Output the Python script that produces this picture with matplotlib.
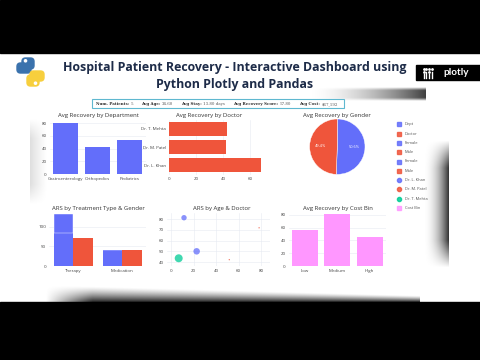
import numpy as np
import matplotlib.pyplot as plt
from matplotlib.patches import Rectangle, FancyBboxPatch, Circle

# ===== DATA =====
TITLE_1 = "Hospital Patient Recovery - Interactive Dashboard using"
TITLE_2 = "Python Plotly and Pandas"

kpi_labels = ["Num. Patients:", "Avg Age:", "Avg Stay:", "Avg Recovery Score:", "Avg Cost:"]
kpi_values = ["5", "34.60", "13.80 days", "57.80", "$67,192"]

departments = ["Gastroenterology", "Orthopedics", "Pediatrics"]
dept_recovery = [81, 42, 54]

doctors = ["Dr. L. Khan", "Dr. M. Patel", "Dr. T. Mehta"]
doctor_recovery = [68, 42, 43]

genders = ["Female", "Male"]
gender_share = [50.6, 49.4]

treatments = ["Therapy", "Medication"]
ars_female_lower = [83, 41]
ars_female_upper = [48, 0]
ars_male = [72, 41]

ages = [11.5, 22.7, 6.8, 51.6, 78]
scores = [81.4, 50, 43.5, 42.2, 72]
patient_doctor = ["Dr. L. Khan", "Dr. L. Khan", "Dr. T. Mehta", "Dr. M. Patel", "Dr. M. Patel"]
bubble_size = [15, 22, 33, 1, 1]

cost_bins = ["Low", "Medium", "High"]
cost_recovery = [56.5, 81.6, 46]

legend_names = ["Dept", "Doctor", "Female", "Male", "Female", "Male",
                "Dr. L. Khan", "Dr. M. Patel", "Dr. T. Mehta", "Cost Bin"]

BLUE = "#636EFA"
RED = "#EF553B"
GREEN = "#00CC96"
PINK = "#FF97FF"
doc_colors = {"Dr. L. Khan": BLUE, "Dr. M. Patel": RED, "Dr. T. Mehta": GREEN}
legend_colors = [BLUE, RED, BLUE, RED, BLUE, RED, BLUE, RED, GREEN, PINK]
legend_marks = ["s"] * 6 + ["o"] * 3 + ["s"]

W, H = 480, 360
FONT = "Open Sans"
TICK_FS = 3.2
TITLE_FS = 4.3
GRID = "#E6EAF2"

fig = plt.figure(figsize=(4.8, 3.6), dpi=100, facecolor="white")

# background canvas in pixel coords
bg = fig.add_axes([0, 0, 1, 1], zorder=0)
bg.set_xlim(0, W)
bg.set_ylim(H, 0)
bg.axis("off")


def shade(x0, x1, y0, y1, alpha):
    rgba = np.zeros(alpha.shape + (4,))
    rgba[..., 3] = np.clip(alpha, 0, 1)
    bg.imshow(rgba, extent=(x0, x1, y1, y0), aspect="auto", interpolation="bilinear", zorder=1)


# black letterbox bands
bg.add_patch(Rectangle((0, 0), W, 53, color="black", zorder=3))
bg.add_patch(Rectangle((0, 302), W, 58, color="black", zorder=3))

# page shadows
xx, yy = np.meshgrid(np.linspace(0, 1, 200), np.linspace(0, 1, 60))
start = 0.05 + 0.6 * xx
a = np.clip((yy - start) / (1 - start + 1e-6), 0, 1) ** 1.3 * 0.85
a *= np.clip(xx * 8, 0, 1)
shade(45, 420, 284, 302, a)

xx, yy = np.meshgrid(np.linspace(0, 1, 60), np.linspace(0, 1, 120))
a = xx ** 2.2 * 0.8 * np.clip(np.sin(np.pi * yy) * 1.6, 0, 1)
shade(422, 449, 140, 268, a)

xx, yy = np.meshgrid(np.linspace(0, 1, 120), np.linspace(0, 1, 40))
a = xx ** 1.8 * 0.75 * np.clip(np.sin(np.pi * yy) * 1.5, 0, 1)
shade(305, 426, 87, 101, a)

xx, yy = np.meshgrid(np.linspace(0, 1, 40), np.linspace(0, 1, 80))
a = (1 - xx) ** 1.2 * 0.13 * np.clip(np.sin(np.pi * yy) * 1.5, 0, 1)
shade(30, 48, 118, 205, a)

# python logo
bg.add_patch(FancyBboxPatch((22, 58), 12, 11, boxstyle="round,pad=0,rounding_size=3.5", color="#3a72ad", zorder=4))
bg.add_patch(FancyBboxPatch((17, 63), 14, 10, boxstyle="round,pad=0,rounding_size=3.5", color="#3a72ad", zorder=4))
bg.add_patch(FancyBboxPatch((30, 71), 14, 10, boxstyle="round,pad=0,rounding_size=3.5", color="#f7cf3d", zorder=4))
bg.add_patch(FancyBboxPatch((27, 75), 12, 11, boxstyle="round,pad=0,rounding_size=3.5", color="#f7cf3d", zorder=4))
bg.add_patch(Circle((25.5, 60.8), 1.1, color="white", zorder=5))
bg.add_patch(Circle((35.5, 83.2), 1.1, color="white", zorder=5))

# title
for txt, y in [(TITLE_1, 67), (TITLE_2, 84.5)]:
    bg.text(235, y, txt, ha="center", va="center", fontsize=8.9, fontweight="bold",
            family="Open Sans", color="#1d2b48", zorder=6)

# plotly logo
bg.add_patch(Rectangle((416, 65), 64, 15, color="black", zorder=4))
for i, cx in enumerate([423.5, 426.3, 429.1, 431.9]):
    bg.plot([cx], [69], "o", ms=1.0, color="white", zorder=5)
    if i % 2 == 0:
        bg.plot([cx], [71.5], "o", ms=1.0, color="white", zorder=5)
    bg.plot([cx, cx], [74 - (i % 2) * 2, 77.5], color="white", lw=1.0, zorder=5)
bg.text(456, 72.3, "plotly", ha="center", va="center", fontsize=7.2, fontweight="bold",
        family="Lato", color="white", zorder=5)

# KPI box, texts placed one after another using measured widths
bg.add_patch(Rectangle((91.5, 99.3), 252, 9, facecolor="white", edgecolor="#5fb8d0", lw=0.8, zorder=4))
renderer = fig.canvas.get_renderer()
x = 95.5
for lab, val in zip(kpi_labels, kpi_values):
    t = bg.text(x, 104, lab, ha="left", va="center", fontsize=2.9, fontweight="bold",
                family="DejaVu Serif", color="#333333", zorder=5)
    x += t.get_window_extent(renderer).width + 1.5
    t = bg.text(x, 104, val, ha="left", va="center", fontsize=2.9,
                family="DejaVu Serif", color="#555555", zorder=5)
    x += t.get_window_extent(renderer).width + 8


def px_axes(x0, y0, x1, y1):
    ax = fig.add_axes([x0 / W, 1 - y1 / H, (x1 - x0) / W, (y1 - y0) / H], zorder=2)
    ax.set_facecolor("none")
    for s in ax.spines.values():
        s.set_visible(False)
    ax.tick_params(length=0, labelsize=TICK_FS, colors="#444444", pad=2)
    return ax


def style(ax, title, tx, ty):
    bg.text(tx, ty, title, ha="center", va="center", fontsize=TITLE_FS, family=FONT,
            color="#333333", zorder=6)
    for lab in ax.get_xticklabels() + ax.get_yticklabels():
        lab.set_family(FONT)


# 1. Avg Recovery by Department
ax = px_axes(49.5, 120, 145.5, 174)
ax.bar(departments, dept_recovery, width=0.8, color=BLUE, zorder=2)
ax.set_xlim(-0.5, 2.5)
ax.set_ylim(0, 85)
ax.set_yticks([0, 20, 40, 60, 80])
ax.grid(axis="y", color=GRID, lw=0.4, zorder=0)
style(ax, "Avg Recovery by Department", 98, 116)

# 2. Avg Recovery by Doctor
ax = px_axes(169, 119.5, 268, 174.5)
ax.barh(doctors, doctor_recovery, height=0.78, color=RED, zorder=2)
ax.set_ylim(-0.5, 2.5)
ax.set_xlim(0, 73)
ax.set_xticks([0, 20, 40, 60])
ax.grid(axis="x", color=GRID, lw=0.4, zorder=0)
style(ax, "Avg Recovery by Doctor", 209, 116)

# 3. Avg Recovery by Gender
ax = px_axes(309.6, 119, 365, 174.4)
ax.pie(gender_share, colors=[BLUE, RED], startangle=90, counterclock=False,
       autopct="%1.1f%%", pctdistance=0.6, radius=1,
       wedgeprops=dict(edgecolor="white", linewidth=0.3),
       textprops=dict(fontsize=2.8, color="white", family=FONT))
ax.set_xlim(-1, 1)
ax.set_ylim(-1, 1)
style(ax, "Avg Recovery by Gender", 337, 116)

# legend
for i, (name, col, mk) in enumerate(zip(legend_names, legend_colors, legend_marks)):
    y = 124.3 + i * 9.3
    bg.plot([398.5], [y], marker=mk, ms=2.6 if mk == "s" else 3.0, color=col,
            alpha=0.85, ls="none", zorder=5)
    bg.text(405, y, name, ha="left", va="center", fontsize=2.9, family=FONT,
            color="#555555", zorder=5)

# 4. ARS by Treatment Type & Gender
ax = px_axes(49, 212, 146.4, 266)
pos = np.arange(len(treatments))
ax.bar(pos - 0.2, ars_female_lower, width=0.4, color=BLUE, zorder=2)
ax.bar(pos - 0.2, ars_female_upper, width=0.4, bottom=ars_female_lower, color=BLUE,
       edgecolor="white", linewidth=0.3, zorder=2)
ax.bar(pos + 0.2, ars_male, width=0.4, color=RED, zorder=2)
ax.set_xticks(pos)
ax.set_xticklabels(treatments)
ax.set_xlim(-0.5, 1.5)
ax.set_ylim(0, 137)
ax.set_yticks([0, 50, 100])
ax.grid(axis="y", color=GRID, lw=0.4, zorder=0)
style(ax, "ARS by Treatment Type & Gender", 98, 208.5)

# 5. ARS by Age & Doctor
ax = px_axes(166.5, 212.8, 270.4, 266.3)
cols = [doc_colors[d] for d in patient_doctor]
ax.scatter(ages, scores, s=bubble_size, c=cols, alpha=0.75, edgecolors="none", zorder=3)
ax.set_xlim(-4, 88)
ax.set_ylim(36, 86)
ax.set_xticks([0, 20, 40, 60, 80])
ax.set_yticks([40, 50, 60, 70, 80])
ax.grid(color=GRID, lw=0.4, zorder=0)
style(ax, "ARS by Age & Doctor", 221.5, 208.5)

# 6. Avg Recovery by Cost Bin
ax = px_axes(288.5, 212, 386, 266)
ax.bar(cost_bins, cost_recovery, width=0.8, color=PINK, zorder=2)
ax.set_xlim(-0.5, 2.5)
ax.set_ylim(0, 84.7)
ax.set_yticks([0, 20, 40, 60, 80])
ax.grid(axis="y", color=GRID, lw=0.4, zorder=0)
style(ax, "Avg Recovery by Cost Bin", 337.5, 208.5)

fig.savefig("out.png", dpi=100, facecolor="white")
